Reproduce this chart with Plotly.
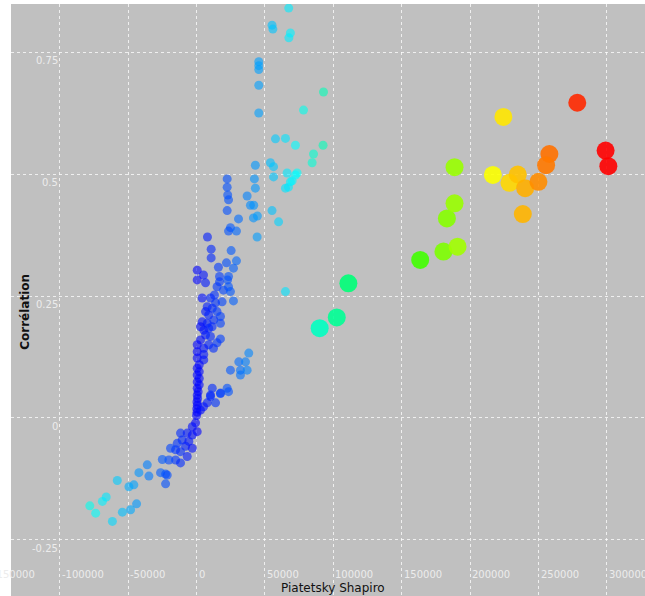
import plotly.graph_objects as go

# ---- data ----
small_x = [67400, 55200, 55800, 68600, 67500, 45500, 45500, 45500, 45500, 45500,
           92800, 78200, 57700, 65000, 72300, 92500, 85500, 84500,
           43000, 54000, 56300, 56300, 66200, 73500, 68600, 67200, 65000, 72300, 69900,
           22400, 22400, 22800, 42300, 43000, 37000,
           23400, 39400, 41800, 22400, 30700, 41600, 44500, 55200, 60000,
           24800, 23400, 29200, 44300, 8000, 10700, 10700, 25300, 21900, 29200, 16000, 27000,
           500, 5100, 500, 16800, 23400, 22700, 16800, 6600,
           15000, 23400, 19700, 24800, 13100, 4100, 10200, 27000, 18700, 13900,
           7800, 11500, 6600, 8900, 15000, 17500,
           4100, 7800, 12600, 17500, 2900, 8900, 5300, 11400,
           6600, 10200, 2900, 17500, 15000, 8900, 500, 12400, 5300,
           500, 5300, 500, 5300,
           2000, 500, 2000, 500, 2000, 500, 2000, 500, 1200, 500, 800, 300, 600, 200, 400, 0,
           38200, 30900, 35800, 24800, 32100, 37000, 32100,
           11500, 22400, 10200, 17500, 65000,
           10200, 17500, 23400, 7800, 13900, 2900, 5100,
           -700, -3100, 500,
           -11700, -6800, -3100, -10500, -5600, -14100, -8000, -3100, -19000, -15300,
           -11700, -6800, -15300, -11700, -20200,
           -25000, -36000, -42100, -34800, -26300, -22600, -21400, -22600, -57900,
           -49400, -45800, -68800, -73700, -61500, -54200, -48200, -43800, -78000, -66000]
small_y = [0.840, 0.805, 0.797, 0.789, 0.779, 0.730, 0.722, 0.714, 0.682, 0.625,
           0.668, 0.631, 0.572, 0.573, 0.559, 0.559, 0.541, 0.523,
           0.518, 0.523, 0.515, 0.494, 0.502, 0.502, 0.484, 0.473, 0.471, 0.498, 0.486,
           0.490, 0.473, 0.457, 0.490, 0.471, 0.455,
           0.447, 0.436, 0.436, 0.425, 0.408, 0.410, 0.414, 0.425, 0.402,
           0.390, 0.383, 0.383, 0.371, 0.371, 0.346, 0.328, 0.343, 0.318, 0.322, 0.309, 0.307,
           0.303, 0.293, 0.283, 0.290, 0.290, 0.283, 0.279, 0.277,
           0.269, 0.269, 0.262, 0.259, 0.252, 0.246, 0.246, 0.240, 0.238, 0.236,
           0.228, 0.225, 0.218, 0.211, 0.218, 0.208,
           0.197, 0.194, 0.201, 0.194, 0.187, 0.184, 0.180, 0.187,
           0.170, 0.167, 0.160, 0.162, 0.154, 0.150, 0.150, 0.143, 0.143,
           0.136, 0.130, 0.123, 0.119,
           0.109, 0.102, 0.095, 0.088, 0.081, 0.074, 0.068, 0.061, 0.054, 0.047, 0.040, 0.033,
           0.026, 0.019, 0.012, 0.005,
           0.133, 0.115, 0.115, 0.098, 0.098, 0.098, 0.088,
           0.061, 0.061, 0.047, 0.050, 0.259,
           0.044, 0.051, 0.054, 0.031, 0.031, 0.016, 0.023,
           -0.010, -0.018, -0.028,
           -0.031, -0.031, -0.035, -0.045, -0.048, -0.052, -0.058, -0.062, -0.062, -0.065,
           -0.069, -0.079, -0.086, -0.092, -0.086,
           -0.085, -0.096, -0.112, -0.119, -0.112, -0.115, -0.117, -0.135, -0.128,
           -0.141, -0.137, -0.171, -0.195, -0.212, -0.193, -0.188, -0.176, -0.180, -0.162]

big_x = [90000, 102500, 111000, 163500, 180500, 190800, 183000, 188600, 188600,
         224300, 216600, 228700, 234800, 240200, 249900, 238500, 257900, 255500,
         278300, 299000, 301000]
big_y = [0.184, 0.206, 0.276, 0.324, 0.341, 0.351, 0.409, 0.440, 0.514,
         0.617, 0.498, 0.482, 0.499, 0.471, 0.484, 0.418, 0.541, 0.518,
         0.646, 0.548, 0.516]

x_ticks = [-150000, -100000, -50000, 0, 50000, 100000, 150000, 200000, 250000, 300000]
x_tick_labels = ["-150000", "-100000", "-50000", "0", "50000", "100000", "150000",
                 "200000", "250000", "300000"]
y_ticks = [-0.25, 0, 0.25, 0.5, 0.75]
y_tick_labels = ["-0.25", "0", "0.25", "0.5", "0.75"]

X_RANGE = [-135600, 327800]
Y_RANGE = [-0.3648, 0.8484]

rainbow = [[0, "#0000ff"], [0.25, "#00ffff"], [0.5, "#00ff00"],
           [0.75, "#ffff00"], [1, "#ff0000"]]
cmax = 290000

fig = go.Figure()
fig.add_trace(go.Scatter(
    x=small_x, y=small_y, mode="markers",
    marker=dict(size=9, color=[abs(v) for v in small_x], colorscale=rainbow,
                cmin=0, cmax=cmax, opacity=0.6, line=dict(width=0)),
    showlegend=False, hoverinfo="x+y"))
fig.add_trace(go.Scatter(
    x=big_x, y=big_y, mode="markers",
    marker=dict(size=18, color=[abs(v) for v in big_x], colorscale=rainbow,
                cmin=0, cmax=cmax, opacity=0.9, line=dict(width=0)),
    showlegend=False, hoverinfo="x+y"))

def xp(v):
    return (v - X_RANGE[0]) / (X_RANGE[1] - X_RANGE[0])

tick_font = dict(family="DejaVu Sans", size=10, color="#ececec")
annotations = []
for v, t in zip(x_ticks, x_tick_labels):
    annotations.append(dict(x=xp(v), xref="paper", y=0.0355, yref="paper", text=t,
                            showarrow=False, xanchor="left", yanchor="middle",
                            font=tick_font))
for v, t in zip(y_ticks, y_tick_labels):
    annotations.append(dict(x=-100000, xref="x", y=v, yref="y", text=t,
                            showarrow=False, xanchor="right", yanchor="top",
                            yshift=-1, font=tick_font))
annotations.append(dict(x=0.508, xref="paper", y=0.0135, yref="paper",
                        text="Piatetsky Shapiro", showarrow=False,
                        xanchor="center", yanchor="middle",
                        font=dict(family="DejaVu Sans", size=12, color="#111111")))
annotations.append(dict(x=0.022, xref="paper", y=0.48, yref="paper",
                        text="<b>Corrélation</b>", showarrow=False, textangle=-90,
                        xanchor="center", yanchor="middle",
                        font=dict(family="DejaVu Sans", size=12, color="#111111")))

grid = dict(showgrid=True, gridcolor="rgba(255,255,255,0.75)", gridwidth=1,
            griddash="3px,3px", zeroline=False, showticklabels=False,
            ticks="", showline=False)
fig.update_layout(
    width=645, height=596,
    margin=dict(l=11, r=0, t=4, b=0),
    paper_bgcolor="white", plot_bgcolor="#c0c0c0",
    xaxis=dict(range=X_RANGE, tickvals=x_ticks, **grid),
    yaxis=dict(range=Y_RANGE, tickvals=y_ticks, **grid),
    annotations=annotations,
    font=dict(family="DejaVu Sans"),
)
fig.write_html("out.html",
               config={"displayModeBar": False},
               post_script="document.body.style.margin='0px';"
                           "document.body.style.overflow='hidden';")
